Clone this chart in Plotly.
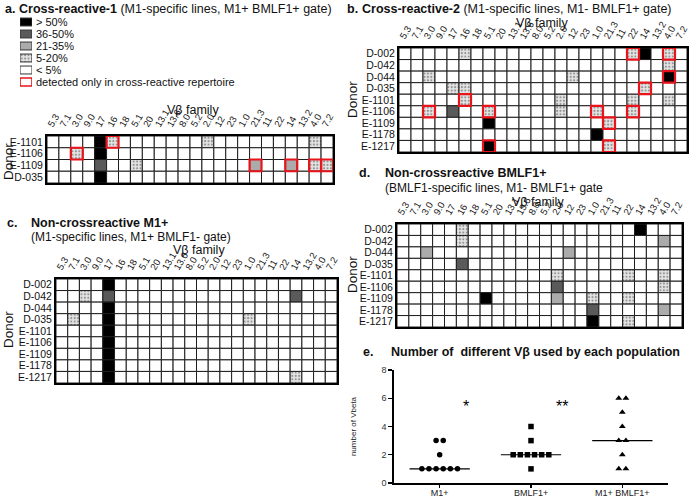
import numpy as np
import plotly.graph_objects as go

W, H = 690, 498
FONT = "Arial, Liberation Sans, sans-serif"

# ---------------- data ----------------
vb_families = ["5.3", "7.1", "3.0", "9.0", "17", "16", "18", "5.1", "20", "13.1", "13.6", "8.0",
               "5.2", "2.0", "12", "23", "1.0", "21.3", "11", "22", "14", "13.2", "4.0", "7.2"]

# frequency levels: 0 <5%, 1 5-20%, 2 21-35%, 3 36-50%, 4 >50%
legend_labels = ["> 50%", "36-50%", "21-35%", "5-20%", "< 5%", "detected only in cross-reactive repertoire"]
legend_levels = [4, 3, 2, 1, 0, 0]
legend_red = [False, False, False, False, False, True]

donors_a = ["E-1101", "E-1106", "E-1109", "D-035"]
cells_a = [  # (donor, Vb family, level, detected only in cross-reactive repertoire)
    ("E-1101", "17", 4, False), ("E-1101", "16", 1, True), ("E-1101", "2.0", 1, False), ("E-1101", "4.0", 1, False),
    ("E-1106", "17", 4, False), ("E-1106", "3.0", 1, True),
    ("E-1109", "17", 3, False), ("E-1109", "5.1", 1, False), ("E-1109", "21.3", 2, True), ("E-1109", "14", 2, True),
    ("E-1109", "4.0", 1, True), ("E-1109", "7.2", 1, True),
    ("D-035", "17", 4, False),
]

donors_9 = ["D-002", "D-042", "D-044", "D-035", "E-1101", "E-1106", "E-1109", "E-1178", "E-1217"]

cells_b = [
    ("D-002", "16", 1, False), ("D-002", "22", 1, True), ("D-002", "14", 4, False), ("D-002", "4.0", 1, True),
    ("D-042", "4.0", 1, False),
    ("D-044", "3.0", 1, False), ("D-044", "12", 1, False), ("D-044", "4.0", 4, True),
    ("D-035", "17", 1, False), ("D-035", "16", 1, False), ("D-035", "14", 1, True),
    ("E-1101", "16", 1, True), ("E-1101", "2.0", 1, False), ("E-1101", "22", 1, False), ("E-1101", "4.0", 1, False),
    ("E-1106", "3.0", 1, True), ("E-1106", "17", 3, False), ("E-1106", "5.1", 1, True), ("E-1106", "2.0", 1, False),
    ("E-1106", "1.0", 1, True), ("E-1106", "22", 1, True),
    ("E-1109", "5.1", 4, False), ("E-1109", "21.3", 1, True),
    ("E-1178", "1.0", 4, False),
    ("E-1217", "5.1", 4, True), ("E-1217", "21.3", 1, True),
]

cells_c = [
    ("D-002", "17", 4, False), ("D-042", "17", 3, False), ("D-044", "17", 4, False), ("D-035", "17", 4, False),
    ("E-1101", "17", 4, False), ("E-1106", "17", 4, False), ("E-1109", "17", 4, False), ("E-1178", "17", 4, False),
    ("E-1217", "17", 4, False),
    ("D-042", "3.0", 1, False), ("D-042", "14", 3, False),
    ("D-035", "7.1", 1, False), ("D-035", "1.0", 1, False),
    ("E-1217", "14", 1, False),
]

cells_d = [
    ("D-002", "16", 1, False), ("D-002", "14", 4, False),
    ("D-042", "16", 1, False), ("D-042", "4.0", 2, False),
    ("D-044", "3.0", 2, False), ("D-044", "12", 2, False),
    ("D-035", "16", 3, False),
    ("E-1101", "2.0", 1, False), ("E-1101", "22", 1, False), ("E-1101", "4.0", 1, False),
    ("E-1106", "2.0", 3, False), ("E-1106", "4.0", 1, False),
    ("E-1109", "5.1", 4, False), ("E-1109", "2.0", 2, False), ("E-1109", "1.0", 1, False), ("E-1109", "22", 1, False),
    ("E-1178", "1.0", 3, False), ("E-1178", "4.0", 2, False),
    ("E-1217", "1.0", 4, False), ("E-1217", "22", 1, False),
]

groups_e = ["M1+", "BMLF1+", "M1+ BMLF1+"]
vbeta_m1 = [1, 1, 1, 1, 1, 1, 2, 3, 3]
vbeta_bmlf1 = [1, 2, 2, 2, 2, 2, 2, 3, 4]
vbeta_both = [1, 1, 2, 3, 3, 4, 5, 6, 6]
symbols_e = ["circle", "square", "triangle-up"]
e_y_ticks = [0, 2, 4, 6, 8]

# ---------------- styling ----------------
level_color = {0: "white", 1: "#e4e4e4", 2: "#ababab", 3: "#5a5a5a", 4: "black"}
PATTERN = dict(fgcolor="#1a1a1a", size=3.4, solidity=0.3, fillmode="overlay")


def px_x(a, b):
    return [a / W, b / W]


def px_y(top, bottom):
    return [1 - bottom / H, 1 - top / H]


fig = go.Figure()


def add_grid(idx, donors, cells):
    xa, ya = ("x%d" % idx, "y%d" % idx)
    nfam = len(vb_families)
    red_x, red_base = [], []
    for r, d in enumerate(donors):
        levels = [0] * nfam
        for (dd, fam, lev, red) in cells:
            if dd == d:
                c = vb_families.index(fam)
                levels[c] = lev
                if red:
                    red_x.append(c)
                    red_base.append(r)
        fig.add_trace(go.Bar(
            x=list(range(nfam)), y=[1] * nfam, base=[r] * nfam, width=1,
            marker=dict(color=[level_color[l] for l in levels],
                        line=dict(color="#1e1e1e", width=1),
                        pattern=dict(shape=["." if l == 1 else "" for l in levels], **PATTERN)),
            xaxis=xa, yaxis=ya, showlegend=False, hoverinfo="skip"))
    if red_x:
        fig.add_trace(go.Bar(
            x=red_x, y=[1] * len(red_x), base=red_base, width=1,
            marker=dict(color="rgba(0,0,0,0)", line=dict(color="#e8141c", width=2.2)),
            xaxis=xa, yaxis=ya, showlegend=False, hoverinfo="skip"))


add_grid(1, donors_a, cells_a)
add_grid(2, donors_9, cells_b)
add_grid(3, donors_9, cells_c)
add_grid(4, donors_9, cells_d)

# ---------- panel e ----------
spacing = 0.078
for gi, (vals, sym) in enumerate(zip([vbeta_m1, vbeta_bmlf1, vbeta_both], symbols_e)):
    xs, ys = [], []
    for v in sorted(set(vals)):
        n = vals.count(v)
        for k in range(n):
            xs.append(gi + (k - (n - 1) / 2) * spacing)
            ys.append(v)
    fig.add_trace(go.Scatter(x=xs, y=ys, mode="markers",
                             marker=dict(symbol=sym, size=5.5 if sym != "triangle-up" else 6, color="black"),
                             xaxis="x5", yaxis="y5", showlegend=False, hoverinfo="skip"))
    med = float(np.median(vals))
    fig.add_trace(go.Scatter(x=[gi - 0.33, gi + 0.33], y=[med, med], mode="lines",
                             line=dict(color="black", width=1.2),
                             xaxis="x5", yaxis="y5", showlegend=False, hoverinfo="skip"))

# ---------- legend (panel a) ----------
fig.add_trace(go.Bar(
    y=list(range(len(legend_labels))), x=[1] * len(legend_labels), base=[0] * len(legend_labels),
    orientation="h", width=0.66,
    marker=dict(color=[("white" if r else level_color[l]) for l, r in zip(legend_levels, legend_red)],
                line=dict(color=["#e8141c" if r else "#333" for r in legend_red],
                          width=[1.6 if r else 1 for r in legend_red]),
                pattern=dict(shape=["." if l == 1 and not r else "" for l, r in zip(legend_levels, legend_red)],
                             **PATTERN)),
    xaxis="x6", yaxis="y6", showlegend=False, hoverinfo="skip"))

# ---------------- layout ----------------
grid_boxes = {
    1: (px_x(47, 333), px_y(136, 183), len(donors_a)),
    2: (px_x(399, 687), px_y(48, 152), len(donors_9)),
    3: (px_x(56, 337), px_y(279, 383), len(donors_9)),
    4: (px_x(397, 682), px_y(224, 327), len(donors_9)),
}
grid_donors = {1: donors_a, 2: donors_9, 3: donors_9, 4: donors_9}

layout = dict(
    width=W, height=H, margin=dict(l=0, r=0, t=0, b=0, autoexpand=False),
    paper_bgcolor="white", plot_bgcolor="white", barmode="overlay",
    font=dict(family=FONT, color="#111"),
)
for i, (dx, dy, n) in grid_boxes.items():
    layout["xaxis%d" % i] = dict(
        domain=dx, anchor="y%d" % i, range=[-0.5, len(vb_families) - 0.5], side="top",
        tickmode="array", tickvals=list(range(len(vb_families))), ticktext=vb_families,
        tickangle=-60, tickfont=dict(size=9.5, color="#111"), ticks="", ticklabelshift=-4,
        showline=True, mirror=True, linewidth=2, linecolor="black", automargin=False,
        showgrid=False, zeroline=False, fixedrange=True)
    layout["yaxis%d" % i] = dict(
        domain=dy, anchor="x%d" % i, range=[n, 0],
        tickmode="array", tickvals=[r + 0.5 for r in range(n)], ticktext=grid_donors[i],
        tickfont=dict(size=10.5, color="#111"), ticks="", automargin=False,
        showline=True, mirror=True, linewidth=2, linecolor="black",
        showgrid=False, zeroline=False, fixedrange=True)

layout["xaxis5"] = dict(
    domain=px_x(394, 668), anchor="y5", range=[-0.5, 2.5], automargin=False,
    tickmode="array", tickvals=[0, 1, 2], ticktext=groups_e, tickfont=dict(size=9, color="#222"),
    ticks="outside", ticklen=3, tickwidth=1.2, tickcolor="black", ticklabelstandoff=-2,
    showline=True, linewidth=1.6, linecolor="black", showgrid=False, zeroline=False, fixedrange=True)
layout["yaxis5"] = dict(
    domain=px_y(370, 483), anchor="x5", range=[0, 8], automargin=False,
    tickmode="array", tickvals=e_y_ticks, tickfont=dict(size=9, color="#333"),
    ticks="outside", ticklen=4, tickwidth=1.2, tickcolor="black",
    showline=True, linewidth=1.6, linecolor="black", showgrid=False, zeroline=False, fixedrange=True,
    title=dict(text="number of Vbeta", font=dict(size=8, color="#222"), standoff=24))

layout["xaxis6"] = dict(domain=px_x(20, 32), anchor="y6", range=[0, 1], visible=False, fixedrange=True,
                        automargin=False)
layout["yaxis6"] = dict(
    domain=px_y(16, 88), anchor="x6", range=[len(legend_labels) - 0.5, -0.5], side="right",
    tickmode="array", tickvals=list(range(len(legend_labels))), ticktext=legend_labels,
    tickfont=dict(size=11, color="#111"), ticks="", ticklabelstandoff=3, automargin=False,
    showline=False, showgrid=False, zeroline=False, fixedrange=True)


def ann(text, x, y, size=12, xanchor="left", angle=0, color="#111"):
    return dict(text=text, x=x / W, y=1 - y / H, xref="paper", yref="paper",
                xanchor=xanchor, yanchor="middle", showarrow=False, textangle=angle,
                font=dict(size=size, family=FONT, color=color))


annotations = [
    ann("<b>a.</b>", 3, 9, 12.5),
    ann("<b>Cross-reactive-1</b> (M1-specific lines, M1+ BMLF1+ gate)", 17, 9, 12.5),
    ann("<b>b.</b>", 345, 9, 12.5),
    ann("<b>Cross-reactive-2</b> (M1-specific lines, M1- BMLF1+ gate)", 360, 9, 12.5),
    ann("<b>c.</b>", 5, 223, 12.5),
    ann("<b>Non-crossreactive M1+</b>", 29, 223, 12.5),
    ann("(M1-specific lines, M1+ BMLF1- gate)", 29, 237, 12),
    ann("<b>d.</b>", 357, 173, 12.5),
    ann("<b>Non-crossreactive BMLF1+</b>", 383, 173, 12.5),
    ann("(BMLF1-specific lines, M1- BMLF1+ gate", 383, 188, 12),
    ann("<b>e.</b>", 361, 352, 12.5),
    ann("<b>Number of  different Vβ used by each population</b>", 389, 352, 12.5),
    ann("Vβ family", 193, 110, 12.5, "center"),
    ann("Vβ family", 542, 23, 12.5, "center"),
    ann("Vβ family", 199, 250, 12.5, "center"),
    ann("Vβ family", 538, 202, 12.5, "center"),
    ann("Donor", 8, 162, 13.5, "center", -90),
    ann("Donor", 352, 100, 13.5, "center", -90),
    ann("Donor", 8, 330, 13.5, "center", -90),
    ann("Donor", 352, 275, 13.5, "center", -90),
]
# significance stars (panel e)
annotations.append(dict(text="*", x=0.29, y=5.4, xref="x5", yref="y5", showarrow=False,
                        font=dict(size=16, family=FONT, color="black")))
annotations.append(dict(text="**", x=1.34, y=5.4, xref="x5", yref="y5", showarrow=False,
                        font=dict(size=16, family=FONT, color="black")))
layout["annotations"] = annotations

fig.update_layout(**layout)
fig.write_html(
    "out.html",
    config={"displayModeBar": False, "staticPlot": True},
    post_script="document.body.style.margin='0';document.body.style.overflow='hidden';"
                "document.documentElement.style.overflow='hidden';")
